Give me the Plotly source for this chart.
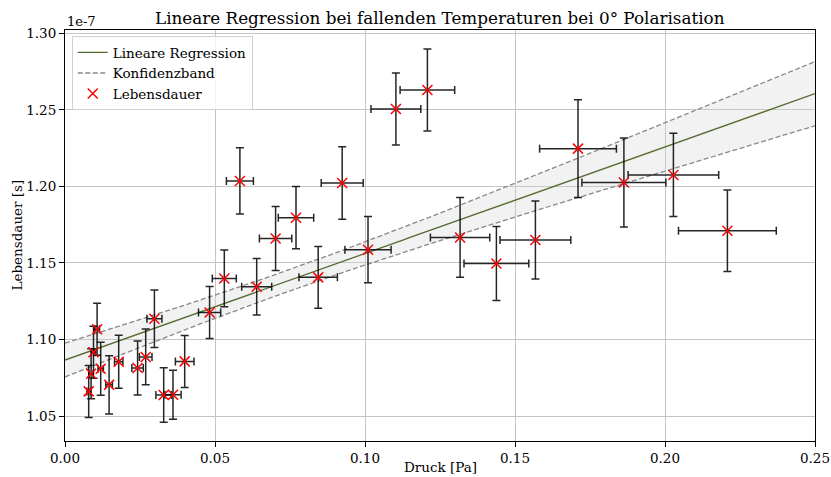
import numpy as np
import plotly.graph_objects as go

# Data (Lebensdauer in units of 1e-7 s)
druck = [0.0079, 0.0087, 0.0095, 0.0107, 0.0119, 0.0147, 0.0179, 0.0242, 0.0269, 0.0298,
         0.0329, 0.0360, 0.0399, 0.0482, 0.0531, 0.0583, 0.0639, 0.0702, 0.0770, 0.0844,
         0.0924, 0.1010, 0.1103, 0.1208, 0.1317, 0.1438, 0.1568, 0.1710, 0.1863, 0.2028,
         0.2208]
lebensdauer = [1.0661, 1.0776, 1.0917, 1.1067, 1.0809, 1.0704, 1.0855, 1.0814, 1.0886, 1.1136,
               1.0638, 1.0639, 1.0857, 1.1176, 1.1399, 1.2036, 1.1345, 1.1660, 1.1796, 1.1406,
               1.2022, 1.1587, 1.2506, 1.2630, 1.1667, 1.1497, 1.1650, 1.2247, 1.2026, 1.2075,
               1.1711]
druck_err = [0.0006, 0.0007, 0.0007, 0.0008, 0.0009, 0.0011, 0.0014, 0.0019, 0.0021, 0.0025,
             0.0026, 0.0027, 0.0031, 0.0037, 0.0040, 0.0045, 0.0050, 0.0054, 0.0059, 0.0064,
             0.0070, 0.0077, 0.0083, 0.0091, 0.0099, 0.0108, 0.0118, 0.0128, 0.0140, 0.0151,
             0.0163]
lebensdauer_err = [0.0170, 0.0163, 0.0170, 0.0170, 0.0173, 0.0190, 0.0173, 0.0176, 0.0182, 0.0188,
                   0.0178, 0.0160, 0.0170, 0.0170, 0.0185, 0.0216, 0.0185, 0.0209, 0.0203, 0.0201,
                   0.0237, 0.0216, 0.0235, 0.0268, 0.0260, 0.0242, 0.0255, 0.0320, 0.0291, 0.0272,
                   0.0266]

# Regression parameters
intercept = 1.0866
slope = 0.696
sigma_intercept = 0.011
sigma_slope = 0.113
cov_slope_intercept = -0.00096

x_range = [0.0, 0.25]
y_range = [1.0337, 1.3022]
x_ticks = [0.00, 0.05, 0.10, 0.15, 0.20, 0.25]
y_ticks = [1.05, 1.10, 1.15, 1.20, 1.25, 1.30]

xs = np.linspace(x_range[0], x_range[1], 200)
fit = intercept + slope * xs
hw = np.sqrt(sigma_intercept**2 + 2 * cov_slope_intercept * xs + (sigma_slope * xs) ** 2)
upper = fit + hw
lower = fit - hw

FONT = "DejaVu Serif"

fig = go.Figure()
fig.add_trace(go.Scatter(x=xs, y=upper, mode="lines", name="Konfidenzband",
                         line=dict(color="#888888", width=1.3, dash="5px,2.5px"),
                         legendrank=2, hoverinfo="skip"))
fig.add_trace(go.Scatter(x=xs, y=lower, mode="lines", name="Konfidenzband",
                         line=dict(color="#888888", width=1.3, dash="5px,2.5px"),
                         fill="tonexty", fillcolor="rgba(211,211,211,0.3)",
                         showlegend=False, hoverinfo="skip"))
fig.add_trace(go.Scatter(x=xs, y=fit, mode="lines", name="Lineare Regression",
                         line=dict(color="#556B2F", width=1.3),
                         legendrank=1))
fig.add_trace(go.Scatter(x=druck, y=lebensdauer, mode="markers", name="Lebensdauer",
                         marker=dict(symbol="x-thin", size=10, color="red",
                                     line=dict(color="red", width=1.5)),
                         error_x=dict(type="data", array=druck_err, color="rgba(0,0,0,0.85)",
                                      thickness=1.5, width=4),
                         error_y=dict(type="data", array=lebensdauer_err, color="rgba(0,0,0,0.85)",
                                      thickness=1.5, width=4),
                         legendrank=3))

fig.update_layout(
    width=831, height=477,
    margin=dict(l=65, r=16, t=30, b=36, autoexpand=False),
    paper_bgcolor="white", plot_bgcolor="white",
    font=dict(family=FONT, size=13, color="black"),
    showlegend=True,
    legend=dict(x=0.009, y=0.985, xanchor="left", yanchor="top", traceorder="normal",
                bgcolor="rgba(255,255,255,0.8)", bordercolor="#d0d0d0", borderwidth=1,
                font=dict(family=FONT, size=13.5), tracegroupgap=0, itemwidth=30),
    annotations=[
        dict(text="Lineare Regression bei fallenden Temperaturen bei 0° Polarisation",
             xref="paper", yref="paper", x=0.5, y=1, xanchor="center", yanchor="bottom",
             yshift=0, showarrow=False, font=dict(family=FONT, size=16.8)),
        dict(text="1e-7", xref="paper", yref="paper", x=0, y=1, xanchor="left",
             yanchor="bottom", yshift=-1, showarrow=False, font=dict(family=FONT, size=13)),
        dict(text="Lebensdauer [s]", xref="paper", yref="paper", x=0, y=0.5,
             xanchor="center", yanchor="middle", xshift=-49, textangle=-90,
             showarrow=False, font=dict(family=FONT, size=13.5)),
        dict(text="Druck [Pa]", xref="paper", yref="paper", x=0.5, y=0,
             xanchor="center", yanchor="middle", yshift=-26, showarrow=False,
             font=dict(family=FONT, size=13.5)),
    ],
)
fig.update_xaxes(range=x_range, tickvals=x_ticks, tickformat=".2f", automargin=False,
                 showgrid=True, gridcolor="#c4c4c4", gridwidth=1.1,
                 showline=True, linecolor="black", linewidth=1, mirror=True,
                 ticks="outside", ticklen=5, tickcolor="black", zeroline=False,
                 tickfont=dict(family=FONT, size=13.5))
fig.update_yaxes(range=y_range, tickvals=y_ticks, tickformat=".2f", automargin=False,
                 showgrid=True, gridcolor="#c4c4c4", gridwidth=1.1,
                 showline=True, linecolor="black", linewidth=1, mirror=True,
                 ticks="outside", ticklen=5, tickcolor="black", zeroline=False,
                 tickfont=dict(family=FONT, size=13.5))

fig.write_html("out.html", config={"displayModeBar": False},
               post_script="document.body.style.margin='0';document.body.style.overflow='hidden';")
